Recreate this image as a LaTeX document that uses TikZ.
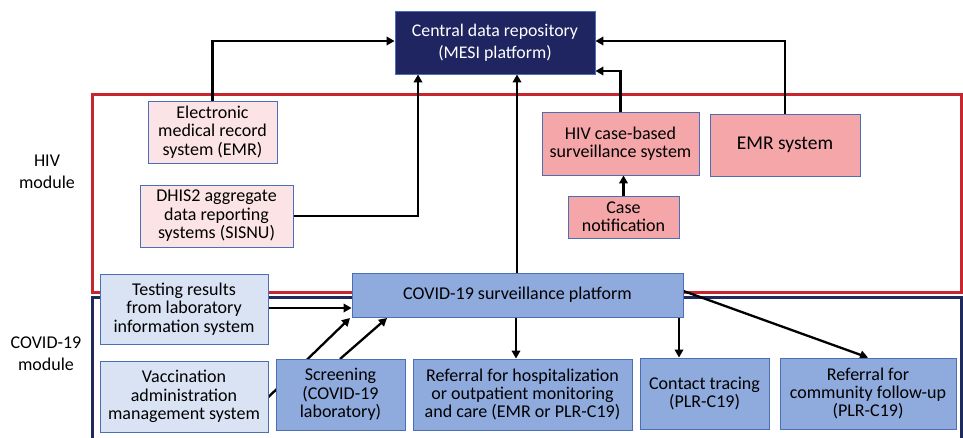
\documentclass[tikz,border=0pt]{standalone}
\usepackage{fontspec}
\setmainfont{Carlito}
\usetikzlibrary{arrows.meta}
\pgfdeclarelayer{background}
\pgfsetlayers{background,main}
\definecolor{navy}{HTML}{1F2560}
\definecolor{boxblue}{HTML}{4A6FB5}
\definecolor{lightpink}{HTML}{FCE4E6}
\definecolor{pink}{HTML}{F4A6A8}
\definecolor{lightblue}{HTML}{DAE3F3}
\definecolor{midblue}{HTML}{8FAADC}
\definecolor{modred}{HTML}{C8262E}
\definecolor{modblue}{HTML}{1F2A5C}
\begin{document}
\begin{tikzpicture}[x=1pt,y=-1pt,
  box/.style={draw=boxblue, line width=0.9pt, align=center, inner sep=1pt,
    font=\fontsize{18}{18.4}\selectfont, text=black},
  arr/.style={line width=2.3pt, -{Triangle[length=8pt,width=8.5pt]}},
  lbl/.style={align=center, font=\fontsize{18}{22}\selectfont, text=black}]
\useasboundingbox (0,0) rectangle (963,438);

\node[box, fill=navy, text=white, minimum width=200, minimum height=63,
  font=\fontsize{17.8}{22}\selectfont] (central) at (495,42.5) {Central data repository\\(MESI platform)};
\node[box, fill=lightpink, minimum width=129, minimum height=62] (emr) at (212.5,132) {Electronic\\medical record\\system (EMR)};
\node[box, fill=lightpink, minimum width=153, minimum height=62] (dhis) at (216.5,216) {DHIS2 aggregate\\data reporting\\systems (SISNU)};
\node[box, fill=pink, minimum width=157, minimum height=63] (hivcbs) at (620.5,143.5) {HIV case-based\\surveillance system};
\node[box, fill=pink, minimum width=150, minimum height=62, font=\fontsize{19.5}{20}\selectfont] (emrsys) at (785,145) {EMR system};
\node[box, fill=pink, minimum width=111, minimum height=42] (casenot) at (623.5,217) {Case\\notification};
\node[box, fill=lightblue, minimum width=168, minimum height=70] (testing) at (184,309) {Testing results\\from laboratory\\information system};
\node[box, fill=midblue, minimum width=331, minimum height=44] (platform) at (517.5,295) {COVID-19 surveillance platform};
\node[box, fill=lightblue, minimum width=168, minimum height=71] (vacc) at (184,396.5) {Vaccination\\administration\\management system};
\node[box, fill=midblue, minimum width=129, minimum height=71] (screen) at (340.5,394.5) {Screening\\(COVID-19\\laboratory)};
\node[box, fill=midblue, minimum width=219, minimum height=71] (refhosp) at (522.5,394.5) {Referral for hospitalization\\or outpatient monitoring\\and care (EMR or PLR-C19)};
\node[box, fill=midblue, minimum width=129, minimum height=71] (contact) at (704.5,393.5) {Contact tracing\\(PLR-C19)};
\node[box, fill=midblue, minimum width=176, minimum height=71] (refcomm) at (868,393.5) {Referral for\\community follow-up\\(PLR-C19)};

\node[lbl] (hivlbl) at (47,172) {HIV\\module};
\node[lbl] (covlbl) at (46,354) {COVID-19\\module};

\begin{pgfonlayer}{background}
\draw[modblue, line width=3pt] (92,445) -- (92,297.5) -- (961.5,297.5) -- (961.5,445);
\draw[modred, line width=3pt] (92,95) rectangle (961.5,292.5);

\draw[arr] (emr.north) |- (central.west |- 0,41);
\draw[arr] (dhis.east) -| (418,0 |- central.south);
\draw[arr] (517,0 |- platform.north) -- (517,0 |- central.south);
\draw[arr] (hivcbs.north) |- (central.east |- 0,71);
\draw[arr] (emrsys.north) |- (central.east |- 0,41);
\draw[arr] (casenot.north) -- (casenot.north |- hivcbs.south);
\draw[arr] (testing.east |- 0,308) -- (platform.west |- 0,308);
\coordinate (vstart) at (vacc.east |- 0,397);
\draw[arr] (vstart) -- (350,318);
\draw[arr] (340,359) -- (387,318);
\draw[arr] (516,0 |- platform.south) -- (516,0 |- refhosp.north);
\draw[arr] (679,0 |- platform.south) -- (679,0 |- contact.north);
\draw[arr] (platform.east) ++(0,-4) -- (refcomm.north);
\end{pgfonlayer}
\end{tikzpicture}
\end{document}
